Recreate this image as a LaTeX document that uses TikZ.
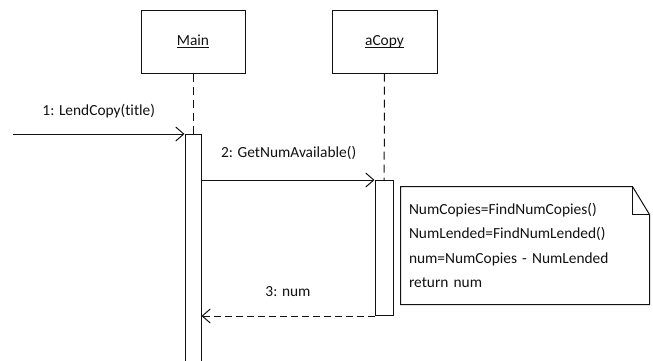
\documentclass[tikz,border=0pt]{standalone}
\usepackage{fontspec}
\setmainfont{Carlito}[Ligatures=NoCommon]
\usepackage{tikz}
\usepackage{xcolor}
\usetikzlibrary{arrows.meta}
\definecolor{FontColor}{HTML}{111111}
\definecolor{LineColor}{HTML}{111111}
\newcommand\objname[1]{\setbox0\hbox{#1}\rlap{\rule[-2.6pt]{\wd0}{0.9pt}}\box0}
\newcommand\nodemain{\objname{Main}}
\newcommand\nodecopy{\objname{aCopy}}
\newcommand\msglend{1: LendCopy(title)}
\newcommand\msgnum{2: GetNumAvailable()}
\newcommand\msgret{3: num}
\tikzstyle{objbox} = [rectangle, draw=LineColor, minimum width=104pt, minimum height=63pt, text=FontColor]
\tikzstyle{actbox} = [rectangle, draw=LineColor, fill=white, anchor=north]
\tikzstyle{lifeline} = [draw=LineColor, dash pattern=on 8pt off 5pt]
\tikzstyle{msg} = [draw=LineColor, ->]
\tikzstyle{retmsg} = [msg, dash pattern=on 7pt off 4pt]
\tikzstyle{lbl} = [text=FontColor, anchor=base, inner sep=0pt]
\tikzset{>={Straight Barb[length=8pt,width=14pt]}, every picture/.style={line width=1pt}}

\begin{document}
\begin{tikzpicture}[x=1pt, y=-1pt, font=\fontsize{15.4pt}{24.3pt}\selectfont]
\useasboundingbox (0,0) rectangle (653,360);
\node[objbox] (main) at (193, 41.5) {\nodemain};
\node[objbox, minimum width=105pt] (copy) at (384.5, 41.5) {\nodecopy};
\node[actbox, minimum width=16pt, minimum height=234pt] (mainact) at (193, 134) {};
\node[actbox, minimum width=18pt, minimum height=135pt] (copyact) at (384, 180) {};
\coordinate (caller) at (13, 134);
\node[text=FontColor, align=left, text width=232pt, inner xsep=8pt, minimum height=117pt] (note) at (525, 245.5)
  {NumCopies=FindNumCopies()\\NumLended=FindNumLended()\\num=NumCopies - NumLended\\return num};
\draw[lifeline] (main) -- (mainact);
\draw[lifeline] (copy) -- (copyact);
\draw[msg] (caller) -- (mainact.north west) node[lbl, midway, yshift=19pt] {\msglend};
\draw[msg] (mainact.east |- copyact.north) -- (copyact.north west) node[lbl, pos=0, anchor=base west, xshift=19pt, yshift=23pt] {\msgnum};
\draw[retmsg] (copyact.south west) -- (mainact.east |- copyact.south) node[lbl, midway, yshift=20pt] {\msgret};
\draw[LineColor] (note.north west) -- ([xshift=-17pt]note.north east) -- ([yshift=-28pt]note.north east) -- (note.south east) -- (note.south west) -- cycle;
\draw[LineColor] ([xshift=-17pt]note.north east) |- ([yshift=-28pt]note.north east);
\end{tikzpicture}
\end{document}
